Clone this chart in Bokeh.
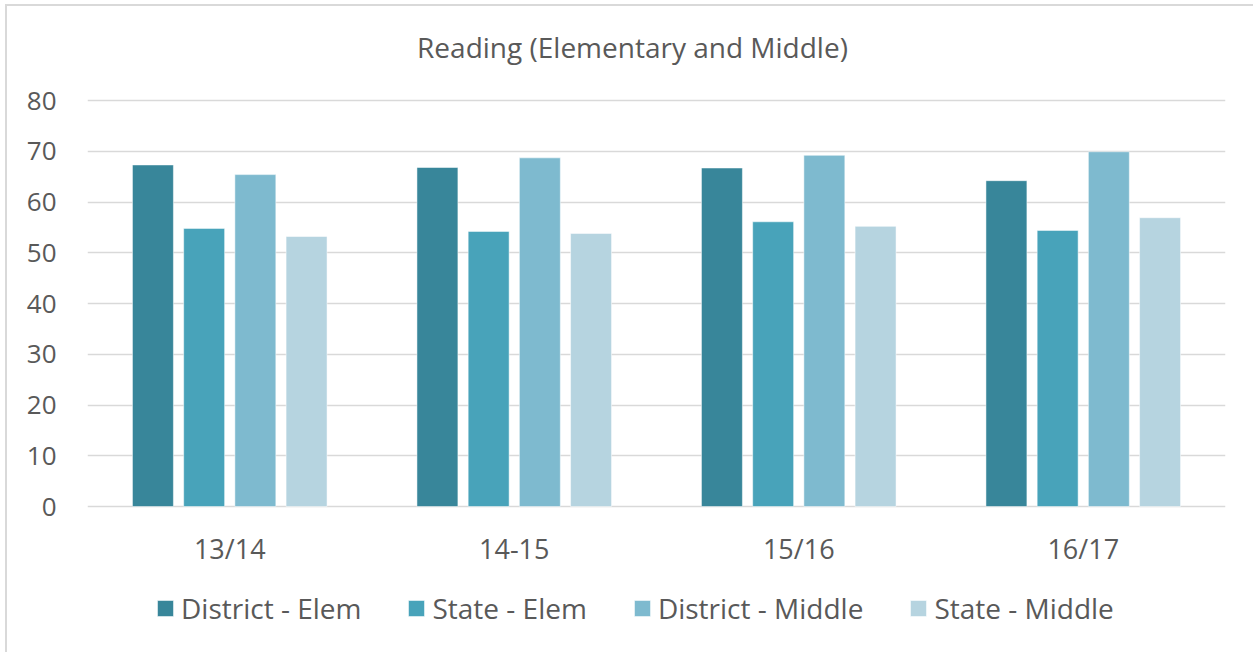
from bokeh.plotting import figure
from bokeh.models import Range1d, FixedTicker, Legend, LegendItem, ColumnDataSource
from bokeh.core.properties import value
from bokeh.embed import file_html
from bokeh.resources import INLINE

categories = ["13/14", "14-15", "15/16", "16/17"]
series_names = ["District - Elem", "State - Elem", "District - Middle", "State - Middle"]
district_elem = [67.3, 66.8, 66.7, 64.2]
state_elem = [54.8, 54.2, 56.1, 54.4]
district_middle = [65.4, 68.7, 69.2, 69.9]
state_middle = [53.2, 53.8, 55.2, 56.9]
y_ticks = [0, 10, 20, 30, 40, 50, 60, 70, 80]
title_text = "Reading (Elementary and Middle)"

colors = ["#38869A", "#48A3BA", "#7EBACF", "#B6D4E0"]
series = [district_elem, state_elem, district_middle, state_middle]
offsets = [-0.27, -0.09, 0.09, 0.27]
FONT = "Open Sans"
TXT = "#595959"
GRID = "#d9d9d9"

W, H = 1253, 652
LEFT, RIGHT = 87, 28
Y0_PX, Y80_PX = 506, 100          # pixel rows of value 0 and value 80
k = (Y0_PX - Y80_PX) / 80.0       # pixels per unit (y)
kx = (W - LEFT - RIGHT) / len(categories)  # pixels per unit (x)
y_top = 80 + Y80_PX / k
y_bottom = -(H - Y0_PX) / k
cat_label_y = -(548 - Y0_PX) / k
title_y = 80 + (Y80_PX - 46) / k
title_x = (632 - LEFT) / kx

p = figure(width=W, height=H, output_backend="svg", toolbar_location=None,
           x_range=Range1d(0, len(categories)), y_range=Range1d(y_bottom, y_top),
           min_border_left=LEFT, min_border_right=RIGHT, min_border_top=0, min_border_bottom=0)
p.outline_line_color = None
p.background_fill_color = None
p.border_fill_color = None
p.styles = {
    "background-color": "white",
    "background-image": "linear-gradient(#d9d9d9, #d9d9d9), linear-gradient(#d9d9d9, #d9d9d9)",
    "background-size": "2px 100%, 100% 2px",
    "background-position": "5px 4px, 5px 4px",
    "background-repeat": "no-repeat",
}

centers = [i + 0.5 for i in range(len(categories))]
renderers = []
for vals, col, off, name in zip(series, colors, offsets, series_names):
    src = ColumnDataSource(dict(x=[c + off for c in centers], top=vals))
    r = p.vbar(x="x", top="top", bottom=0, width=0.144, source=src,
               fill_color=col, line_color="white", line_alpha=0.5, line_width=1)
    renderers.append((name, r))

p.xgrid.grid_line_color = None
p.ygrid.grid_line_color = GRID
p.ygrid.grid_line_width = 1.5
p.ygrid.ticker = FixedTicker(ticks=y_ticks)

p.xaxis.visible = False
p.yaxis.ticker = FixedTicker(ticks=y_ticks)
p.yaxis.axis_line_color = None
p.yaxis.major_tick_line_color = None
p.yaxis.minor_tick_line_color = None
p.yaxis.major_label_text_font = FONT
p.yaxis.major_label_text_font_size = "26px"
p.yaxis.major_label_text_color = TXT
p.yaxis.major_label_standoff = 25

cat_src = ColumnDataSource(dict(x=centers, y=[cat_label_y] * len(centers), text=categories))
p.text(x="x", y="y", text="text", source=cat_src, text_align="center", text_baseline="middle",
       text_font=value(FONT), text_font_size="27px", text_color=TXT)

p.text(x=[title_x], y=[title_y], text=[title_text], text_align="center", text_baseline="middle",
       text_font=value(FONT), text_font_size="28px", text_color=TXT)

legend = Legend(items=[LegendItem(label=n, renderers=[r]) for n, r in renderers],
                orientation="horizontal", location=(68, 25),
                glyph_width=20, glyph_height=20, label_standoff=6, spacing=45,
                label_height=30, padding=0, margin=0, border_line_color=None,
                background_fill_alpha=0,
                label_text_font=FONT, label_text_font_size="28px", label_text_color=TXT)
p.add_layout(legend, "center")

open("out.html", "w").write(file_html(p, INLINE))
